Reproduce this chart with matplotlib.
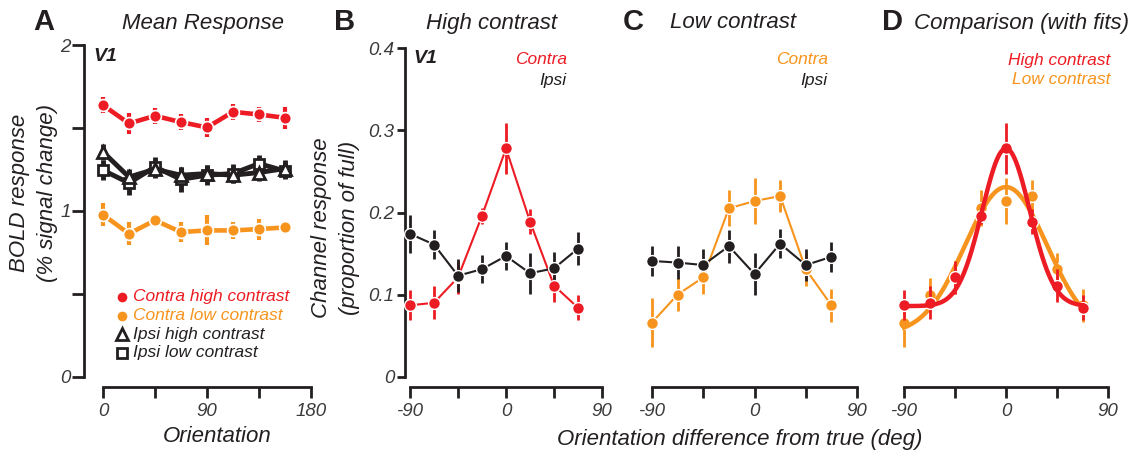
import matplotlib
matplotlib.use('Agg')
import matplotlib.pyplot as plt
import numpy as np

plt.rcParams['font.family'] = ['Liberation Sans', 'DejaVu Sans']

RED = '#ED1C24'
ORANGE = '#F7941D'
BLACK = '#231F20'
GREY = '#3a3a3a'

# Panel A: mean BOLD response per orientation
orient = [0, 22.5, 45, 67.5, 90, 112.5, 135, 157.5]
contra_high = [1.637, 1.527, 1.573, 1.535, 1.503, 1.597, 1.581, 1.561]
contra_high_err = [0.05, 0.063, 0.05, 0.05, 0.055, 0.05, 0.045, 0.068]
contra_low = [0.977, 0.862, 0.943, 0.872, 0.882, 0.882, 0.890, 0.900]
contra_low_err = [0.07, 0.07, 0.03, 0.06, 0.09, 0.05, 0.063, 0.04]
ipsi_high = [1.355, 1.204, 1.251, 1.215, 1.225, 1.215, 1.231, 1.255]
ipsi_high_err = [0.05, 0.05, 0.05, 0.05, 0.05, 0.05, 0.05, 0.05]
ipsi_low = [1.245, 1.168, 1.265, 1.190, 1.215, 1.225, 1.285, 1.240]
ipsi_low_err = [0.06, 0.07, 0.06, 0.075, 0.06, 0.06, 0.05, 0.05]

# Panels B-D: channel responses
chan_x = [-90, -67.5, -45, -22.5, 0, 22.5, 45, 67.5]
hc_contra = [0.087, 0.090, 0.121, 0.196, 0.278, 0.189, 0.111, 0.084]
hc_contra_err = [0.018, 0.02, 0.02, 0.01, 0.031, 0.015, 0.02, 0.015]
hc_ipsi = [0.174, 0.161, 0.123, 0.131, 0.147, 0.126, 0.132, 0.156]
hc_ipsi_err = [0.023, 0.018, 0.02, 0.017, 0.017, 0.025, 0.02, 0.02]
lc_contra = [0.066, 0.100, 0.121, 0.205, 0.214, 0.220, 0.131, 0.087]
lc_contra_err = [0.03, 0.02, 0.02, 0.022, 0.028, 0.019, 0.02, 0.02]
lc_ipsi = [0.141, 0.139, 0.136, 0.159, 0.125, 0.162, 0.136, 0.146]
lc_ipsi_err = [0.018, 0.02, 0.02, 0.02, 0.026, 0.018, 0.02, 0.018]

# Gaussian fit parameters (baseline, amplitude, width)
hc_fit = (0.086, 0.192, 21.0)
lc_fit = (0.052, 0.179, 36.0)

W, H = 1136, 455
fig = plt.figure(figsize=(W / 100, H / 100), dpi=100)


def px_axes(left, right, top, bottom):
    return fig.add_axes([left / W, 1 - bottom / H, (right - left) / W, (bottom - top) / H])


def style(ax, xticks, xlabels, yaxis=True, ylen=6, ypad=2):
    for s in ['top', 'right']:
        ax.spines[s].set_visible(False)
    ax.spines['bottom'].set_position(('outward', 7.2))
    ax.spines['bottom'].set_bounds(xticks[0], xticks[-1])
    ax.spines['bottom'].set_linewidth(2)
    ax.spines['bottom'].set_color(BLACK)
    ax.set_xticks(xticks)
    ax.set_xticklabels(xlabels)
    ax.tick_params(axis='x', length=8, width=2, color=BLACK, labelsize=13.5,
                   labelcolor=GREY, pad=3.5)
    ax.tick_params(axis='y', length=ylen, width=2, color=BLACK, labelsize=13.5,
                   labelcolor=GREY, pad=ypad)
    for t in ax.get_xticklabels() + ax.get_yticklabels():
        t.set_fontstyle('italic')
    if yaxis:
        ax.spines['left'].set_linewidth(2)
        ax.spines['left'].set_color(BLACK)
    else:
        ax.spines['left'].set_visible(False)
        ax.set_yticks([])


def chan_series(ax, y, err, color, lw=1.5):
    ax.errorbar(chan_x, y, yerr=err, fmt='none', ecolor=color, elinewidth=2, clip_on=False, zorder=2)
    ax.plot(chan_x, y, '-', color=color, lw=lw, clip_on=False, zorder=3)
    ax.plot(chan_x, y, 'o', color=color, ms=8.5, mec='white', mew=1, clip_on=False, zorder=4)


# ---- Panel A
axA = px_axes(84, 311, 45, 376.7)
axA.set_xlim(-16.44, 180)
axA.set_ylim(0, 2)
axA.errorbar(orient, contra_high, yerr=contra_high_err, fmt='none', ecolor=RED, elinewidth=3, zorder=2)
axA.plot(orient, contra_high, '-o', color=RED, lw=3.3, ms=8.5, mec='white', mew=1.2, zorder=3)
axA.errorbar(orient, contra_low, yerr=contra_low_err, fmt='none', ecolor=ORANGE, elinewidth=3, zorder=2)
axA.plot(orient, contra_low, '-o', color=ORANGE, lw=3.3, ms=8.5, mec='white', mew=1.2, zorder=3)
axA.errorbar(orient, ipsi_low, yerr=ipsi_low_err, fmt='none', ecolor=BLACK, elinewidth=3.5, zorder=2)
axA.plot(orient, ipsi_low, '-s', color=BLACK, lw=3.5, ms=7, mfc='white', mec=BLACK, mew=2, zorder=3)
axA.errorbar(orient, ipsi_high, yerr=ipsi_high_err, fmt='none', ecolor=BLACK, elinewidth=3.5, zorder=2)
axA.plot(orient, ipsi_high, '-^', color=BLACK, lw=3.5, ms=9, mfc='white', mec=BLACK, mew=2, zorder=4)
axA.set_yticks([0, 0.5, 1, 1.5, 2])
axA.set_yticklabels(['0', '', '1', '', '2'])
style(axA, [0, 45, 90, 135, 180], ['0', '', '90', '', '180'], ylen=8.6, ypad=1)
axA.spines['left'].set_bounds(0, 2)
axA.text(0.04, 0.965, 'V1', transform=axA.transAxes, fontsize=14, fontweight='bold',
         fontstyle='italic', color=BLACK, va='center')

leg_items = [('o', RED, RED, 'Contra high contrast', RED),
             ('o', ORANGE, ORANGE, 'Contra low contrast', ORANGE),
             ('^', 'white', BLACK, 'Ipsi high contrast', BLACK),
             ('s', 'white', BLACK, 'Ipsi low contrast', BLACK)]
for i, (m, fc, ec, label, tc) in enumerate(leg_items):
    ypx = 297 + i * 18.5
    fig.lines.append(plt.Line2D([122 / W], [1 - ypx / H], transform=fig.transFigure, marker=m,
                                ms=8 if m != 's' else 7, mfc=fc, mec=ec if m != 'o' else 'white',
                                mew=2 if m != 'o' else 1, ls='none'))
    fig.text(133 / W, 1 - ypx / H, label, color=tc, fontsize=12.5, fontstyle='italic', va='center')

fig.text(20 / W, 1 - 193 / H, 'BOLD response', rotation=90, fontsize=16, fontstyle='italic',
         ha='center', va='center', color=BLACK)
fig.text(48 / W, 1 - 193 / H, '(% signal change)', rotation=90, fontsize=16, fontstyle='italic',
         ha='center', va='center', color=BLACK)
fig.text(217 / W, 1 - 437 / H, 'Orientation', fontsize=16, fontstyle='italic', ha='center',
         va='center', color=BLACK)

# ---- Panel B
axB = px_axes(405, 602, 48.3, 376.7)
axB.set_xlim(-94.7, 90)
axB.set_ylim(0, 0.4)
chan_series(axB, hc_contra, hc_contra_err, RED)
chan_series(axB, hc_ipsi, hc_ipsi_err, BLACK)
axB.set_yticks([0, 0.1, 0.2, 0.3, 0.4])
axB.set_yticklabels(['0', '0.1', '0.2', '0.3', '0.4'])
style(axB, [-90, -45, 0, 45, 90], ['-90', '', '0', '', '90'], ylen=5.8, ypad=2)
axB.spines['left'].set_bounds(0, 0.4)
axB.text(0.04, 0.97, 'V1', transform=axB.transAxes, fontsize=14, fontweight='bold',
         fontstyle='italic', color=BLACK, va='center')
fig.text(567 / W, 1 - 60 / H, 'Contra', color=RED, fontsize=12.5, fontstyle='italic', ha='right', va='center')
fig.text(566 / W, 1 - 81 / H, 'Ipsi', color=BLACK, fontsize=12.5, fontstyle='italic', ha='right', va='center')
fig.text(321 / W, 1 - 228 / H, 'Channel response', rotation=90, fontsize=16, fontstyle='italic',
         ha='center', va='center', color=BLACK)
fig.text(350 / W, 1 - 228 / H, '(proportion of full)', rotation=90, fontsize=16, fontstyle='italic',
         ha='center', va='center', color=BLACK)

# ---- Panel C
axC = px_axes(652, 857, 48.3, 376.7)
axC.set_xlim(-90, 90)
axC.set_ylim(0, 0.4)
chan_series(axC, lc_contra, lc_contra_err, ORANGE)
chan_series(axC, lc_ipsi, lc_ipsi_err, BLACK)
style(axC, [-90, -45, 0, 45, 90], ['-90', '', '0', '', '90'], yaxis=False)
fig.text(828 / W, 1 - 60 / H, 'Contra', color=ORANGE, fontsize=12.5, fontstyle='italic', ha='right', va='center')
fig.text(827 / W, 1 - 81 / H, 'Ipsi', color=BLACK, fontsize=12.5, fontstyle='italic', ha='right', va='center')

# ---- Panel D
axD = px_axes(904, 1108, 48.3, 376.7)
axD.set_xlim(-90, 90)
axD.set_ylim(0, 0.4)
xf = np.linspace(chan_x[0], chan_x[-1], 300)
for (b, a, s), y, err, color, z in [(lc_fit, lc_contra, lc_contra_err, ORANGE, 2),
                                    (hc_fit, hc_contra, hc_contra_err, RED, 5)]:
    axD.errorbar(chan_x, y, yerr=err, fmt='none', ecolor=color, elinewidth=2, clip_on=False, zorder=z)
    axD.plot(chan_x, y, 'o', color=color, ms=8.5, mec='white', mew=1, clip_on=False, zorder=z + 1)
    axD.plot(xf, b + a * np.exp(-xf ** 2 / (2 * s ** 2)), '-', color=color, lw=3.2,
             clip_on=False, zorder=z + 2)
style(axD, [-90, -45, 0, 45, 90], ['-90', '', '0', '', '90'], yaxis=False)
fig.text(1110 / W, 1 - 60 / H, 'High contrast', color=RED, fontsize=12.5, fontstyle='italic', ha='right', va='center')
fig.text(1110 / W, 1 - 79 / H, 'Low contrast', color=ORANGE, fontsize=12.5, fontstyle='italic', ha='right', va='center')

fig.text(740 / W, 1 - 439 / H, 'Orientation difference from true (deg)', fontsize=16,
         fontstyle='italic', ha='center', va='center', color=BLACK)

# panel letters and titles
for letter, lx, title, tx in [('A', 44, 'Mean Response', 203), ('B', 345, 'High contrast', 492),
                              ('C', 633, 'Low contrast', 733), ('D', 892, 'Comparison (with fits)', 1021)]:
    fig.text(lx / W, 1 - 22 / H, letter, fontsize=21, fontweight='bold', ha='center', va='center', color=BLACK)
    fig.text(tx / W, 1 - 23 / H, title, fontsize=16, fontstyle='italic', ha='center', va='center', color=BLACK)

fig.savefig('out.png', dpi=100)
